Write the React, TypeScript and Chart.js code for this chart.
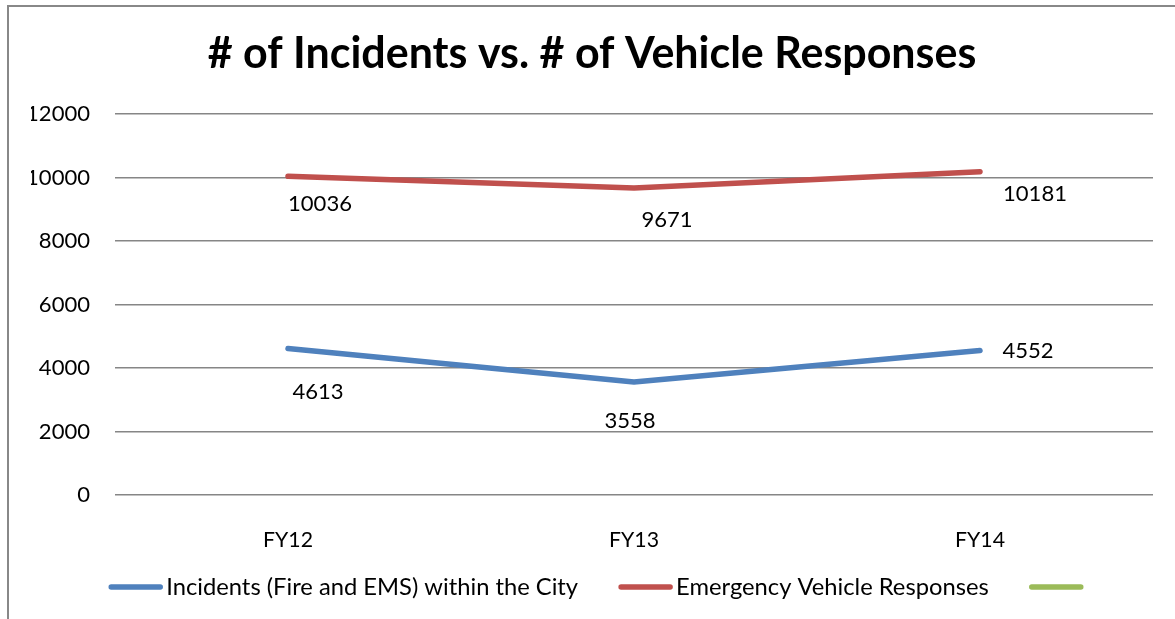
import React, { useEffect, useRef } from "react";
import { Chart, registerables } from "chart.js";

Chart.register(...registerables);

// ---- data ----
const titleText = "# of Incidents vs. # of Vehicle Responses";
const categories = ["FY12", "FY13", "FY14"];
const incidents = [4613, 3558, 4552];
const vehicleResponses = [10036, 9671, 10181];
const seriesNames = ["Incidents (Fire and EMS) within the City", "Emergency Vehicle Responses", ""];
const yTicks = [0, 2000, 4000, 6000, 8000, 10000, 12000];

// ---- style ----
const FONT = "Lato, 'Open Sans', sans-serif";
const colors = ["#4F81BD", "#C0504D", "#9BBB59"];
const labelOffsets = [
  [[30, 43], [-4, 39], [48, 0]],
  [[32, 28], [33, 32], [55, 22]],
];
const CANVAS_W = 1166;
const CANVAS_H = 612;

function fitSize(text: string, weight: string, target: number) {
  const c = document.createElement("canvas").getContext("2d")!;
  c.font = `${weight} 100px ${FONT}`;
  return (100 * target) / c.measureText(text).width;
}

export default function App() {
  const ref = useRef<HTMLCanvasElement | null>(null);

  useEffect(() => {
    if (!ref.current) return;
    const titleSize = fitSize(titleText, "bold", 769);
    const legendSize = fitSize(seriesNames[0], "normal", 412);
    const numSize = fitSize("12000", "normal", 64);
    const catSize = fitSize("FY12", "normal", 50);
    const titleLH = titleSize * 1.2;
    const titlePadTop = 47 - titleLH / 2;
    const titlePadBottom = 107 - titlePadTop - titleLH;

    const dataLabels = {
      id: "dataLabels",
      afterDatasetsDraw(chart: any) {
        const ctx = chart.ctx;
        ctx.save();
        ctx.font = `normal ${numSize}px ${FONT}`;
        ctx.fillStyle = "#000";
        ctx.textAlign = "center";
        ctx.textBaseline = "middle";
        [0, 1].forEach((di) => {
          const meta = chart.getDatasetMeta(di);
          const vals = chart.data.datasets[di].data as number[];
          meta.data.forEach((el: any, i: number) => {
            const [dx, dy] = labelOffsets[di][i];
            ctx.fillText(String(vals[i]), el.x + dx, el.y + dy);
          });
        });
        ctx.restore();
      },
    };

    const legendPlugin = {
      id: "customLegend",
      afterDraw(chart: any) {
        const ctx = chart.ctx;
        ctx.save();
        ctx.font = `normal ${legendSize}px ${FONT}`;
        const lineLen = 53;
        const gap = 4;
        const itemGap = 41;
        const items = chart.data.datasets.map((d: any) => ({
          label: d.label as string,
          color: d.borderColor as string,
          w: ctx.measureText(d.label).width,
        }));
        let total = 0;
        items.forEach((it: any, i: number) => {
          total += lineLen + (it.label ? gap + it.w : 0);
          if (i < items.length - 1) total += itemGap;
        });
        let x = (chart.width - total) / 2 + 4;
        const y = 580;
        items.forEach((it: any) => {
          ctx.strokeStyle = it.color;
          ctx.lineWidth = 5.5;
          ctx.lineCap = "round";
          ctx.beginPath();
          ctx.moveTo(x + 2, y);
          ctx.lineTo(x + lineLen - 2, y);
          ctx.stroke();
          x += lineLen;
          if (it.label) {
            ctx.fillStyle = "#000";
            ctx.textAlign = "left";
            ctx.textBaseline = "middle";
            ctx.fillText(it.label, x + gap, y);
            x += gap + it.w;
          }
          x += itemGap;
        });
        ctx.restore();
      },
    };

    const chart = new Chart(ref.current, {
      type: "line",
      data: {
        labels: categories,
        datasets: [
          { label: seriesNames[0], data: incidents, borderColor: colors[0], backgroundColor: colors[0] },
          { label: seriesNames[1], data: vehicleResponses, borderColor: colors[1], backgroundColor: colors[1] },
          { label: seriesNames[2], data: [], borderColor: colors[2], backgroundColor: colors[2] },
        ].map((d) => ({
          ...d,
          borderWidth: 5.5,
          pointRadius: 0,
          pointHoverRadius: 0,
          tension: 0,
          borderCapStyle: "round" as const,
          borderJoinStyle: "round" as const,
        })),
      },
      options: {
        animation: false,
        responsive: false,
        layout: { padding: { left: 22, right: 22, top: 0, bottom: 0 } },
        plugins: {
          legend: { display: false },
          tooltip: { enabled: false },
          title: {
            display: true,
            text: titleText,
            color: "#000",
            font: { family: FONT, size: titleSize, weight: "bold", lineHeight: 1.2 },
            padding: { top: titlePadTop, bottom: titlePadBottom },
          },
        },
        scales: {
          x: {
            offset: true,
            grid: { display: false },
            border: { display: false },
            ticks: {
              color: "#000",
              font: { family: FONT, size: catSize },
              padding: 24,
              maxRotation: 0,
            },
            afterFit: (s: any) => {
              s.height = CANVAS_H - 488;
            },
          },
          y: {
            min: 0,
            max: 12000,
            afterBuildTicks: (s: any) => {
              s.ticks = yTicks.map((v) => ({ value: v }));
            },
            grid: { color: "#868686", lineWidth: 1.5, drawTicks: false },
            border: { display: false },
            ticks: {
              color: "#000",
              font: { family: FONT, size: numSize },
              padding: 25,
              callback: (v: any) => String(v),
            },
            afterFit: (s: any) => {
              s.width = 84;
            },
          },
        },
      },
      plugins: [dataLabels, legendPlugin],
    });
    return () => chart.destroy();
  }, []);

  return (
    <div
      style={{
        position: "absolute",
        left: 7,
        top: 5,
        width: CANVAS_W + 2,
        height: CANVAS_H + 2,
        boxSizing: "border-box",
        borderLeft: "2px solid #888",
        borderTop: "2px solid #888",
        background: "#fff",
      }}
    >
      <canvas ref={ref} width={CANVAS_W} height={CANVAS_H} style={{ display: "block" }} />
    </div>
  );
}
